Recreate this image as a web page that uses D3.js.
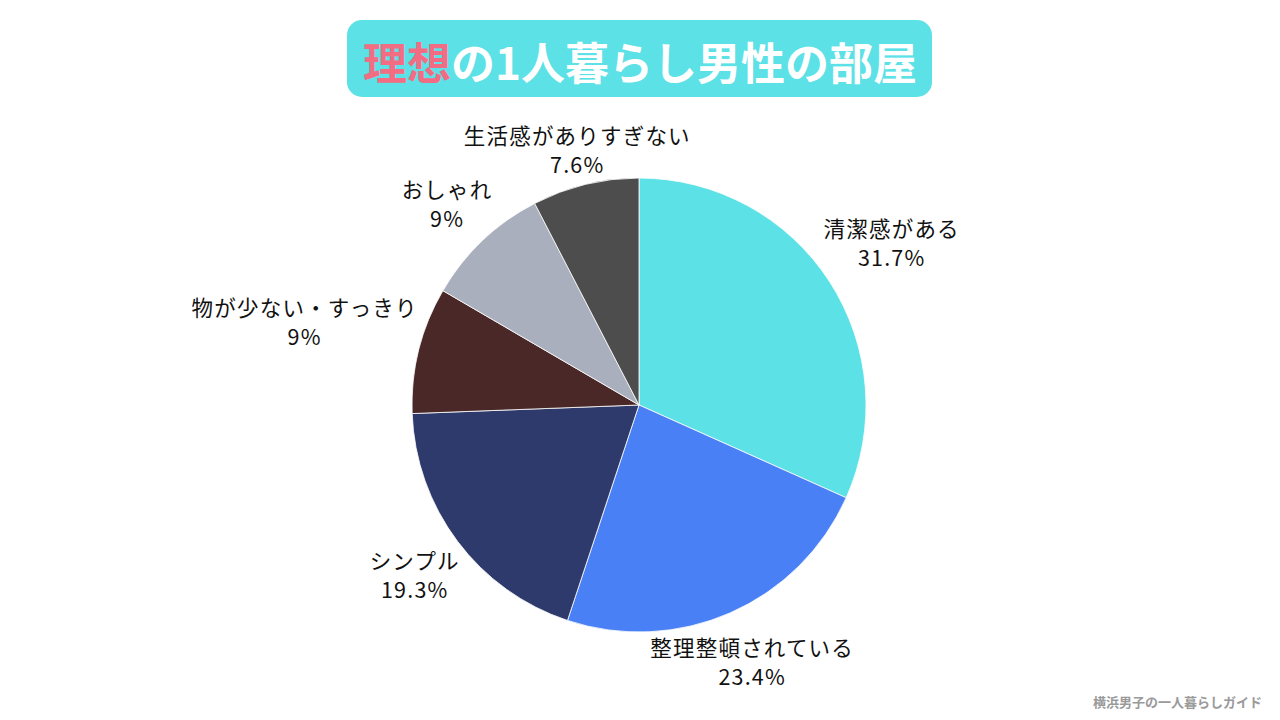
<!DOCTYPE html>
<html><head><meta charset="utf-8">
<script src="https://cdn.jsdelivr.net/npm/d3@7"></script>
<style>html,body{margin:0;padding:0;background:#fff;}svg{display:block;}</style>
</head><body>
<svg id="c" width="1280" height="720"></svg>
<script>
const categories = ["清潔感がある","整理整頓されている","シンプル","物が少ない・すっきり","おしゃれ","生活感がありすぎない"];
const values = [31.7, 23.4, 19.3, 9, 9, 7.6];
const valueLabels = ["31.7%","23.4%","19.3%","9%","9%","7.6%"];
const colors = ["#5ce1e6","#4a80f5","#2e3a6b","#4a2828","#a9afbd","#4d4d4d"];
const titleAccent = "理想";
const titleRest = "の1人暮らし男性の部屋";
const credit = "横浜男子の一人暮らしガイド";

const svg = d3.select("#c");
const font = "'Noto Sans CJK JP','Noto Sans',sans-serif";

// title box
const tg = svg.append("g");
tg.append("rect").attr("x",347).attr("y",20).attr("width",585).attr("height",77).attr("rx",15).attr("fill","#5ce1e6");
const tt = tg.append("text").attr("x",640).attr("y",61).attr("text-anchor","middle").attr("dominant-baseline","central")
  .attr("font-family",font).attr("font-weight",700).attr("font-size",44);
tt.append("tspan").attr("fill","#f26d83").text(titleAccent);
tt.append("tspan").attr("fill","#ffffff").text(titleRest);

// pie
const cx = 639, cy = 405, r = 227;
const g = svg.append("g").attr("transform",`translate(${cx},${cy})`);
const pie = d3.pie().sort(null).value(d=>d)(values);
const arc = d3.arc().innerRadius(0).outerRadius(r);
g.selectAll("path").data(pie).join("path").attr("d",arc)
  .attr("fill",(d,i)=>colors[i]).attr("stroke","#ffffff").attr("stroke-width",0.8);

// labels: boxes placed along mid-angle so nearest box point is at distance D
const D = 229, fs = 21.5, lh = 29, ls = 1.2;
pie.forEach((d,i)=>{
  const a = (d.startAngle+d.endAngle)/2;
  const ux = Math.sin(a), uy = -Math.cos(a);
  const lg = g.append("g");
  const mk = s => lg.append("text").attr("text-anchor","middle").attr("font-family",font).attr("font-size",fs)
    .attr("letter-spacing",ls).attr("fill","#111").attr("dominant-baseline","central").text(s);
  const t1 = mk(categories[i]);
  const t2 = mk(valueLabels[i]);
  const w = Math.max(t1.node().getBBox().width, t2.node().getBBox().width);
  const h = 54;
  let lo = 0, hi = 600;
  for (let k=0;k<60;k++){
    const t=(lo+hi)/2, bx=ux*t, by=uy*t;
    const nx = Math.max(bx-w/2, Math.min(0, bx+w/2));
    const ny = Math.max(by-h/2, Math.min(0, by+h/2));
    if (Math.hypot(nx, ny) < D) lo=t; else hi=t;
  }
  const bx = ux*lo, by = uy*lo;
  t1.attr("x",bx+ls/2).attr("y",by-lh/2);
  t2.attr("x",bx+ls/2).attr("y",by+lh/2);
});

svg.append("text").attr("x",1262).attr("y",707).attr("text-anchor","end").attr("font-family",font)
  .attr("font-weight",700).attr("font-size",13).attr("fill","#9a9a9a").text(credit);
</script>
</body></html>
